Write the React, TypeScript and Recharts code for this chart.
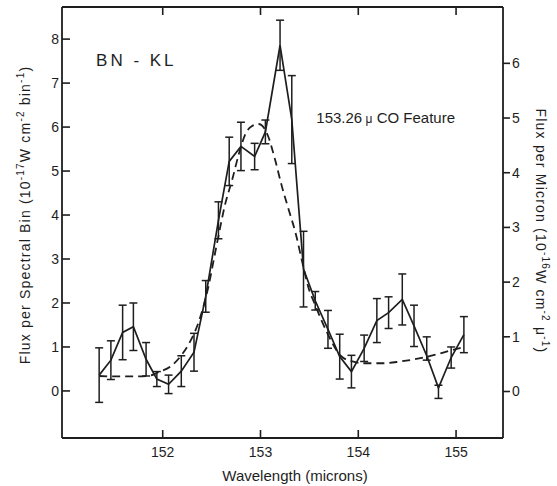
import React from 'react';
import { ComposedChart, Line, XAxis, YAxis, ErrorBar, ReferenceDot } from 'recharts';

// spectral bins (microns), flux per bin and 1-sigma errors
const wavelength = [
  151.35, 151.47, 151.59, 151.7, 151.83, 151.94, 152.06, 152.19, 152.32, 152.44, 152.57,
  152.68, 152.8, 152.94, 153.05, 153.2, 153.32, 153.44, 153.56, 153.69, 153.81, 153.93,
  154.06, 154.19, 154.31, 154.45, 154.57, 154.7, 154.82, 154.95, 155.08,
];
const flux = [
  0.36, 0.7, 1.33, 1.46, 0.72, 0.27, 0.15, 0.45, 0.88, 2.15, 3.88,
  5.22, 5.56, 5.33, 5.89, 7.86, 6.17, 2.77, 2.05, 1.4, 0.78, 0.44,
  0.97, 1.6, 1.78, 2.08, 1.48, 0.8, 0.07, 0.76, 1.28,
];
const fluxErr: (number | [number, number])[] = [
  0.62, 0.44, 0.62, 0.54, 0.38, 0.17, 0.21, 0.35, 0.43, 0.36, 0.42,
  0.55, 0.55, 0.3, 0.27, 0.57, 1.0, 0.86, 0.21, 0.43, 0.51, 0.37,
  0.3, 0.5, 0.36, 0.58, 0.47, [0.1, 0.43], [0.24, 0.06], 0.24, 0.41,
];

// dashed model profile
const fitWavelength = [
  151.35, 151.5, 151.7, 151.85, 151.95, 152.1, 152.2, 152.28, 152.38, 152.46, 152.55,
  152.64, 152.71, 152.78, 152.85, 152.91, 152.98, 153.04, 153.08, 153.15, 153.22, 153.29,
  153.36, 153.43, 153.49, 153.56, 153.68, 153.82, 153.94, 154.06, 154.26, 154.43, 154.71,
  154.96, 155.08,
];
const fitFlux = [
  0.34, 0.33, 0.33, 0.34, 0.42, 0.59, 0.84, 1.12, 1.65, 2.3, 3.3,
  4.26, 4.8, 5.4, 5.86, 6.02, 6.07, 5.97, 5.78, 5.25, 4.64, 4.11,
  3.58, 2.9, 2.35, 1.95, 1.33, 0.8, 0.67, 0.63, 0.63, 0.67, 0.78,
  0.93, 1.0,
];

const xTicks = [152, 153, 154, 155];
const leftTicks = [0, 1, 2, 3, 4, 5, 6, 7, 8];
const rightTicks = [0, 1, 2, 3, 4, 5, 6];

const binData = wavelength.map((w, i) => ({ w, flux: flux[i], err: fluxErr[i] }));
const fitData = fitWavelength.map((w, i) => ({ w, fit: fitFlux[i] }));

const ink = '#1e1e1e';
const xDomain = [150.97, 155.48];

const LeftTitle = () => (
  <text x={25} y={215} transform="rotate(-90 25 215)" textAnchor="middle" dy="0.35em"
    fontSize={14} fill={ink} letterSpacing={1.2}>
    <tspan>Flux per Spectral Bin  (10</tspan>
    <tspan dy={-6} fontSize={10}>-17</tspan>
    <tspan dy={6}>W cm</tspan>
    <tspan dy={-6} fontSize={10}>-2</tspan>
    <tspan dy={6}> bin</tspan>
    <tspan dy={-6} fontSize={10}>-1</tspan>
    <tspan dy={6}>)</tspan>
  </text>
);

const RightTitle = () => (
  <text x={541} y={231} transform="rotate(90 541 231)" textAnchor="middle" dy="0.35em"
    fontSize={14} fill={ink} letterSpacing={1.2}>
    <tspan>Flux per Micron  (10</tspan>
    <tspan dy={-6} fontSize={10}>-16</tspan>
    <tspan dy={6}>W cm</tspan>
    <tspan dy={-6} fontSize={10}>-2</tspan>
    <tspan dy={6}> {'\u03bc'}</tspan>
    <tspan dy={-6} fontSize={10}>-1</tspan>
    <tspan dy={6}>)</tspan>
  </text>
);

const BottomTitle = () => (
  <text x={295} y={476} textAnchor="middle" dy="0.35em" fontSize={15} fill={ink}>
    Wavelength (microns)
  </text>
);

const centerOf = (p: any) => {
  const vb = p.viewBox || { x: 0, y: 0, width: 0, height: 0 };
  return { cx: vb.x + (vb.width || 0) / 2, cy: vb.y + (vb.height || 0) / 2 };
};

const SourceName = (p: any) => {
  const { cx, cy } = centerOf(p);
  return (
    <text x={cx} y={cy} dy="0.35em" textAnchor="middle" fontSize={17} fill={ink} letterSpacing={3}>
      BN - KL
    </text>
  );
};

const FeatureName = (p: any) => {
  const { cx, cy } = centerOf(p);
  return (
    <text x={cx} y={cy} dy="0.35em" textAnchor="middle" fontSize={15} fill={ink}>
      153.26<tspan fontSize={12}> {'\u03bc'}</tspan> CO Feature
    </text>
  );
};

export default function App() {
  const axisLine = { stroke: ink, strokeWidth: 1.8 };
  const tickLine = { stroke: ink, strokeWidth: 1.6 };
  const tick = { fill: ink, fontSize: 14 };
  return (
    <div style={{ position: 'absolute', left: 0, top: 0, fontFamily: '"Liberation Sans", Arial, sans-serif' }}>
      <ComposedChart width={557} height={486} margin={{ top: 2, right: 14, bottom: 18, left: 22 }}>
        <XAxis xAxisId="bottom" dataKey="w" type="number" domain={xDomain} ticks={xTicks}
          allowDataOverflow height={30} axisLine={axisLine} tickLine={tickLine} tick={tick}
          tickSize={-8} tickMargin={17} label={{ content: () => <BottomTitle /> }} />
        <XAxis xAxisId="top" orientation="top" dataKey="w" type="number" domain={xDomain} ticks={xTicks}
          allowDataOverflow height={5} axisLine={axisLine} tickLine={tickLine}
          tickSize={-8} tickFormatter={() => ''} />
        <YAxis yAxisId="left" type="number" domain={[-1.07, 8.73]} ticks={leftTicks} allowDataOverflow
          width={40} axisLine={axisLine} tickLine={tickLine} tick={tick} tickSize={-8} tickMargin={11}
          label={{ content: () => <LeftTitle /> }} />
        <YAxis yAxisId="right" orientation="right" type="number" domain={[-0.85, 7.03]} ticks={rightTicks}
          allowDataOverflow width={40} axisLine={axisLine} tickLine={tickLine} tick={tick}
          tickSize={7} tickMargin={2} label={{ content: () => <RightTitle /> }} />
        <Line xAxisId="bottom" yAxisId="left" data={fitData} dataKey="fit" type="monotone"
          stroke={ink} strokeWidth={1.8} strokeDasharray="8 5" dot={false} isAnimationActive={false} />
        <Line xAxisId="bottom" yAxisId="left" data={binData} dataKey="flux" type="linear"
          stroke={ink} strokeWidth={1.7} dot={false} isAnimationActive={false}>
          <ErrorBar dataKey="err" direction="y" width={4} stroke={ink} strokeWidth={1.5} isAnimationActive={false} />
        </Line>
        <ReferenceDot xAxisId="bottom" yAxisId="left" x={151.73} y={7.53} r={0} stroke="none"
          label={{ content: (p: any) => <SourceName {...p} /> }} />
        <ReferenceDot xAxisId="bottom" yAxisId="left" x={154.28} y={6.21} r={0} stroke="none"
          label={{ content: (p: any) => <FeatureName {...p} /> }} />
      </ComposedChart>
    </div>
  );
}
